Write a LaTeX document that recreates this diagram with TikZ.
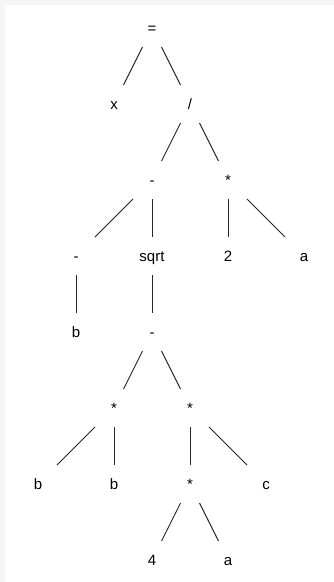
\documentclass[tikz,border=0pt]{standalone}
\usepackage{fontspec}
\setmainfont{Liberation Sans}
\usetikzlibrary{positioning,calc}
\definecolor{framegray}{HTML}{F5F5F5}

\begin{document}
\begin{tikzpicture}[x=1pt, y=1pt, semithick, on grid, node distance=76pt and 38pt]
		\tikzstyle{every node}=[text=black, inner sep=0pt, text height=11pt, text depth=0pt, font=\fontsize{15}{18}\selectfont]
		\tikzstyle{tedge}=[draw=black!85, line width=0.9pt, to path={($(\tikztostart)!.25!(\tikztotarget)$) -- ($(\tikztostart)!.75!(\tikztotarget)$)}]
		\fill[framegray] (0,0) rectangle (334,-582);
		\fill[white] (5,-5) rectangle (334,-582);
		\useasboundingbox (0,0) rectangle (334,-582);
		\node    (eq)   at (152,-28)                          {=};
		\node    (xv)   [below left = of eq]                  {x};
		\node    (div)  [below right = of eq]                 {/};
		\node    (sub)  [below left = of div]                 {-};
		\node    (mul)  [below right = of div]                {*};
		\node    (neg)  [below left = 76pt and 76pt of sub]   {-};
		\node    (sqrt) [below = of sub]                      {sqrt};
		\node    (two)  [below = of mul]                      {2};
		\node    (a1)   [below right = 76pt and 76pt of mul]  {a};
		\node    (b1)   [below = of neg]                      {b};
		\node    (sub2) [below = of sqrt]                     {-};
		\node    (mulb) [below left = of sub2]                {*};
		\node    (mulc) [below right = of sub2]               {*};
		\node    (b2)   [below left = 76pt and 76pt of mulb]  {b};
		\node    (b3)   [below = of mulb]                     {b};
		\node    (mul4) [below = of mulc]                     {*};
		\node    (c)    [below right = 76pt and 76pt of mulc] {c};
		\node    (four) [below left = of mul4]                {4};
		\node    (a2)   [below right = of mul4]               {a};
		\path[tedge]
		(eq) edge (xv)
		(eq) edge (div)
		(div) edge (sub)
		(div) edge (mul)
		(sub) edge (neg)
		(sub) edge (sqrt)
		(mul) edge (two)
		(mul) edge (a1)
		(neg) edge (b1)
		(sqrt) edge (sub2)
		(sub2) edge (mulb)
		(sub2) edge (mulc)
		(mulb) edge (b2)
		(mulb) edge (b3)
		(mulc) edge (mul4)
		(mulc) edge (c)
		(mul4) edge (four)
		(mul4) edge (a2);
	\end{tikzpicture}
\end{document}
